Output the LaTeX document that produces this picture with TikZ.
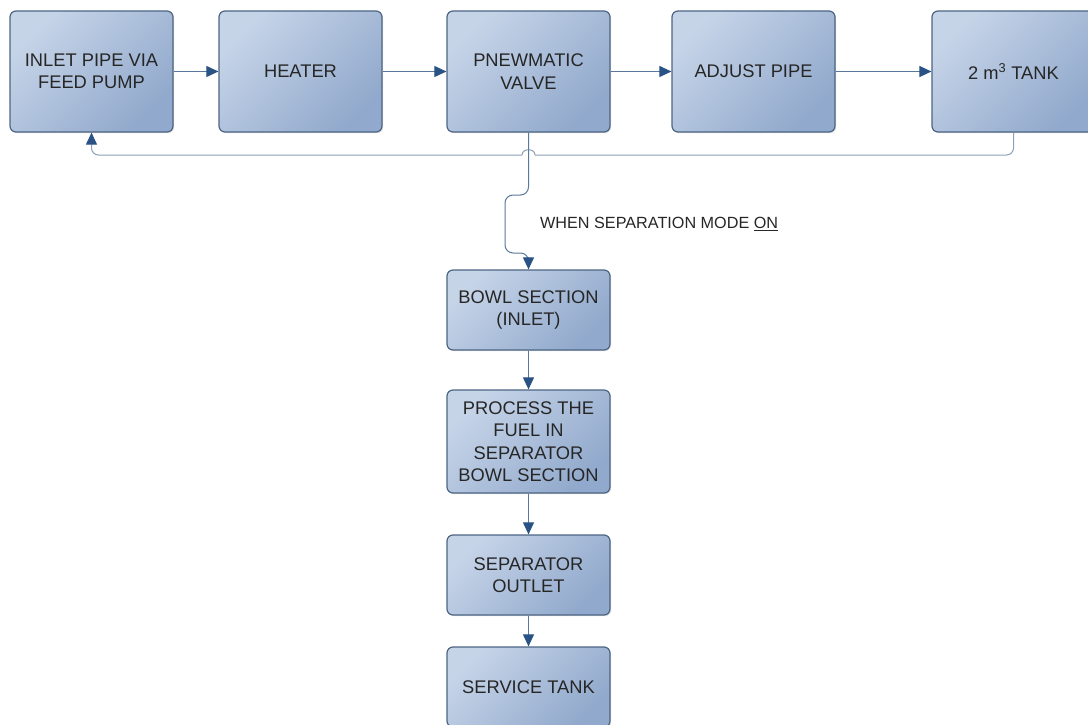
\documentclass[tikz,border=0pt]{standalone}
\usepackage{fontspec}
\setmainfont{Liberation Sans}
\usetikzlibrary{arrows.meta,shadows}
\definecolor{boxlight}{HTML}{C6D4E8}
\definecolor{boxdark}{HTML}{91A9CC}
\definecolor{boxborder}{HTML}{4D6584}
\definecolor{txt}{HTML}{262626}
\definecolor{linec}{HTML}{5A789C}
\definecolor{headc}{HTML}{2A5385}
\definecolor{fbc}{HTML}{8C9FB4}
\begin{document}
\begin{tikzpicture}[x=1pt,y=-1pt,
  box/.style={draw=boxborder, line width=1.2pt, rounded corners=6pt,
    top color=boxlight, bottom color=boxdark, shading angle=45,
    align=center, inner sep=0pt, minimum width=163pt, text=txt,
    font=\fontsize{18.3}{22.5}\selectfont,
    drop shadow={opacity=0.25,shadow xshift=1.2pt,shadow yshift=-1.2pt}},
  tipb/.style={-{Triangle[length=12pt,width=11pt,color=headc]}},
  flow/.style={draw=linec, line width=1pt, tipb},
  fb/.style={draw=fbc, line width=1pt},
  lbl/.style={text=txt, font=\fontsize{16.2}{19}\selectfont, inner sep=0pt}
]
\useasboundingbox (0,0) rectangle (1088,725);
\clip (0,0) rectangle (1088,725);

% top row
\node[box, minimum height=121pt] (n1) at (91.5,71.5) {INLET PIPE VIA\\FEED PUMP};
\node[box, minimum height=121pt] (n2) at (300.5,71.5) {HEATER};
\node[box, minimum height=121pt] (n3) at (528.5,71.5) {PNEWMATIC\\VALVE};
\node[box, minimum height=121pt] (n4) at (753.5,71.5) {ADJUST PIPE};
\node[box, minimum height=121pt] (n5) at (1013.5,71.5) {2 m\textsuperscript{3} TANK};

% column
\node[box, minimum height=80pt] (bowl) at (528.5,310) {BOWL SECTION\\(INLET)};
\node[box, minimum height=103pt] (proc) at (528.5,441.5) {PROCESS THE\\FUEL IN\\SEPARATOR\\BOWL SECTION};
\node[box, minimum height=80pt] (outl) at (528.5,575) {SEPARATOR\\OUTLET};
\node[box, minimum height=80pt] (serv) at (528.5,687) {SERVICE TANK};

\node[lbl, anchor=west] (cond) at (540,224) {WHEN SEPARATION MODE \underline{ON}};

% top arrows
\draw[flow] (n1.east) -- (n2.west);
\draw[flow] (n2.east) -- (n3.west);
\draw[flow] (n3.east) -- (n4.west);
\draw[flow] (n4.east) -- (n5.west);

% feedback line with hop
\coordinate (hopR) at (535,155);
\coordinate (hopL) at (522,155);
\draw[fb, rounded corners=7pt] (n5.south) |- (hopR);
\draw[fb] (hopR) .. controls (535,148) and (522,148) .. (hopL);
\draw[fb, tipb, rounded corners=7pt] (hopL) -| (n1.south);

% separation branch
\draw[flow, rounded corners=8pt] (n3.south) -- (528.5,195) -- (505,195) -- (505,253) -- (528.5,253) -- (bowl.north);

% column arrows
\draw[flow] (bowl.south) -- (proc.north);
\draw[flow] (proc.south) -- (outl.north);
\draw[flow] (outl.south) -- (serv.north);
\end{tikzpicture}
\end{document}
